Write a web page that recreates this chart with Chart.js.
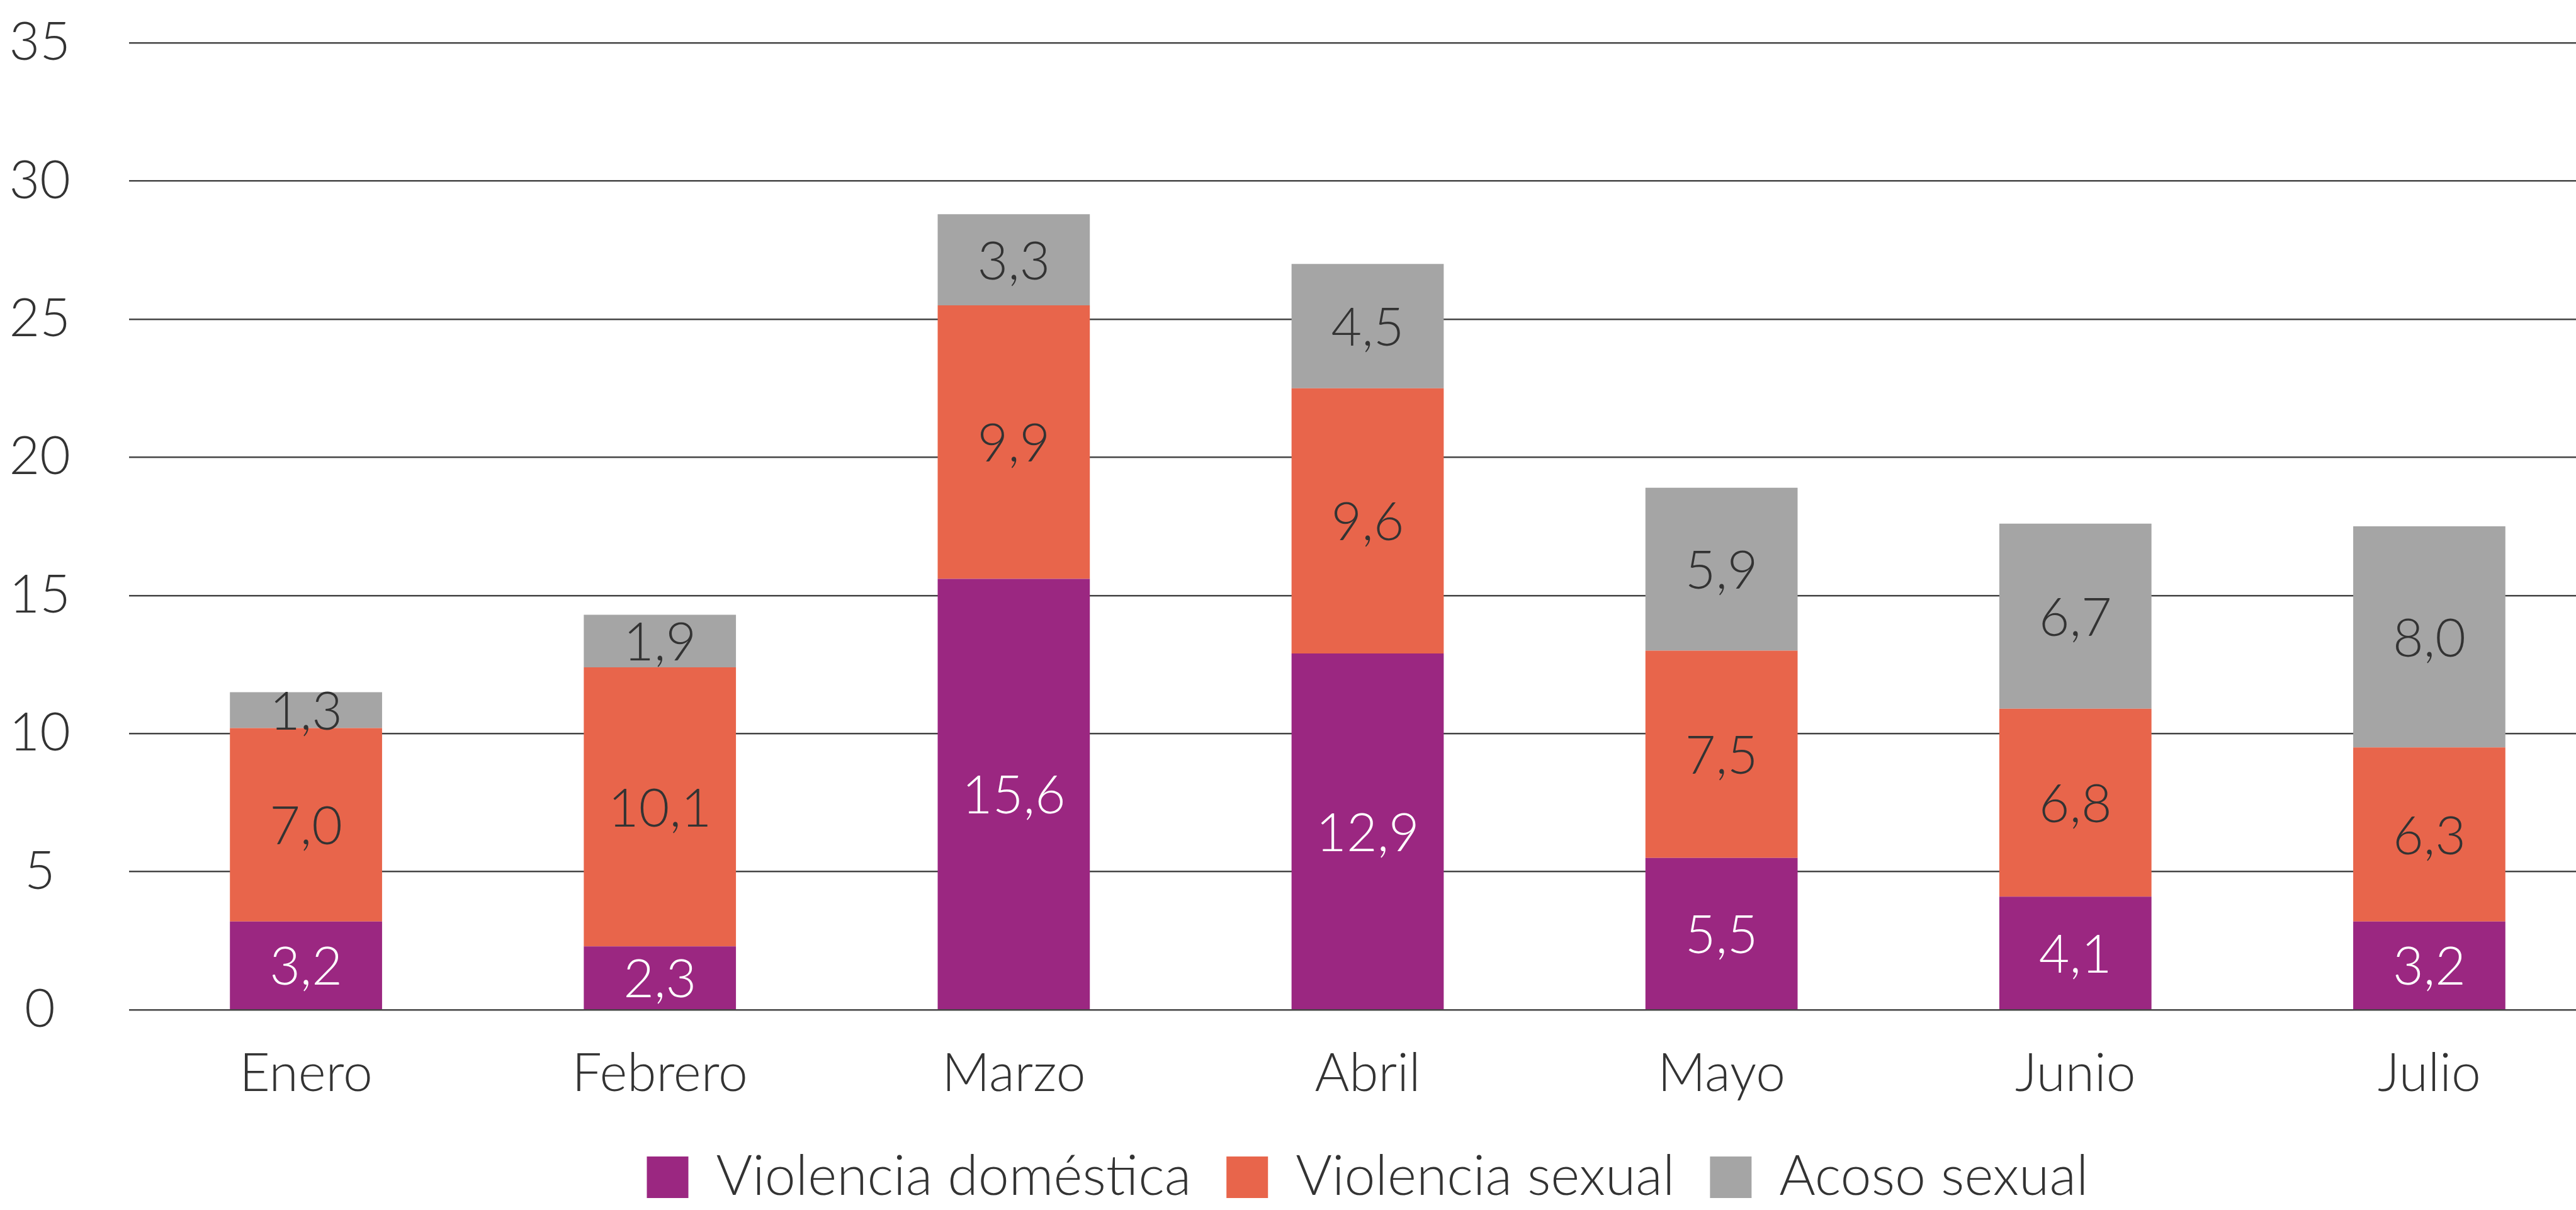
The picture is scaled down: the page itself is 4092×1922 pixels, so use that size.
<!DOCTYPE html>
<html>
<head>
<meta charset="utf-8">
<script src="https://cdn.jsdelivr.net/npm/chart.js@4"></script>
<style>
    html, body { margin: 0; padding: 0; background: #fff; overflow: hidden; }
    .chart-container { position: relative; width: 4140px; height: 1922px; }
</style>
</head>
<body>
<div class="chart-container">
    <canvas id="chart1"></canvas>
</div>
<script>
    // Datos
    let meses = ["Enero", "Febrero", "Marzo", "Abril", "Mayo", "Junio", "Julio"];
    let domestica = [3.2, 2.3, 15.6, 12.9, 5.5, 4.1, 3.2];
    let sexual = [7.0, 10.1, 9.9, 9.6, 7.5, 6.8, 6.3];
    let acoso = [1.3, 1.9, 3.3, 4.5, 5.9, 6.7, 8.0];
    let yTicks = [0, 5, 10, 15, 20, 25, 30, 35];

    let fontFamily = "Lato, 'Open Sans', sans-serif";
    let textColor = "#333333";
    let fontSize = 84;

    // Etiquetas dentro de cada segmento
    let segmentLabels = {
        id: "segmentLabels",
        afterDatasetsDraw(chart) {
            let ctx = chart.ctx;
            ctx.save();
            ctx.font = "300 " + fontSize + "px " + fontFamily;
            ctx.textAlign = "center";
            ctx.textBaseline = "middle";
            chart.data.datasets.forEach(function(ds, i) {
                let meta = chart.getDatasetMeta(i);
                meta.data.forEach(function(bar, j) {
                    let txt = ds.data[j].toFixed(1).replace(".", ",");
                    ctx.fillStyle = ds.labelColor;
                    ctx.fillText(txt, bar.x, (bar.y + bar.base) / 2 + 4);
                });
            });
            ctx.restore();
        }
    };

    let ctx1 = document.getElementById("chart1").getContext("2d");
    new Chart(ctx1, {
        type: "bar",
        data: {
            labels: meses,
            datasets: [
                { label: "Violencia doméstica", data: domestica, backgroundColor: "#9B2781", labelColor: "#ffffff" },
                { label: "Violencia sexual", data: sexual, backgroundColor: "#E8654B", labelColor: textColor },
                { label: "Acoso sexual", data: acoso, backgroundColor: "#A5A5A5", labelColor: textColor }
            ]
        },
        options: {
            responsive: true,
            maintainAspectRatio: false,
            animation: false,
            devicePixelRatio: 1,
            datasets: {
                bar: { categoryPercentage: 1, barPercentage: 0.43 }
            },
            layout: { padding: { top: 68, left: 0, right: 0, bottom: -2 } },
            plugins: {
                tooltip: { enabled: false },
                legend: {
                    position: "bottom",
                    fullSize: false,
                    labels: {
                        color: textColor,
                        font: { family: fontFamily, size: 88, weight: "300" },
                        boxWidth: 66,
                        boxHeight: 66,
                        padding: 56
                    }
                }
            },
            scales: {
                x: {
                    stacked: true,
                    grid: { display: false },
                    border: { display: false },
                    afterFit: function(scale) { scale.height = scale.height - 29; },
                    ticks: {
                        color: textColor,
                        font: { family: fontFamily, size: fontSize, weight: "300" },
                        padding: 43
                    }
                },
                y: {
                    stacked: true,
                    min: 0,
                    max: 35,
                    afterBuildTicks: function(scale) {
                        scale.ticks = yTicks.map(function(v) { return { value: v }; });
                    },
                    afterFit: function(scale) {
                        scale.width = 205;
                        scale.paddingTop = 0;
                        scale.paddingBottom = 0;
                    },
                    grid: { color: "#444444", lineWidth: 2.5, drawTicks: false },
                    border: { display: false },
                    ticks: {
                        color: textColor,
                        font: { family: fontFamily, size: fontSize, weight: "300" },
                        crossAlign: "center",
                        padding: 93
                    }
                }
            }
        },
        plugins: [segmentLabels]
    });
</script>
</body>
</html>
